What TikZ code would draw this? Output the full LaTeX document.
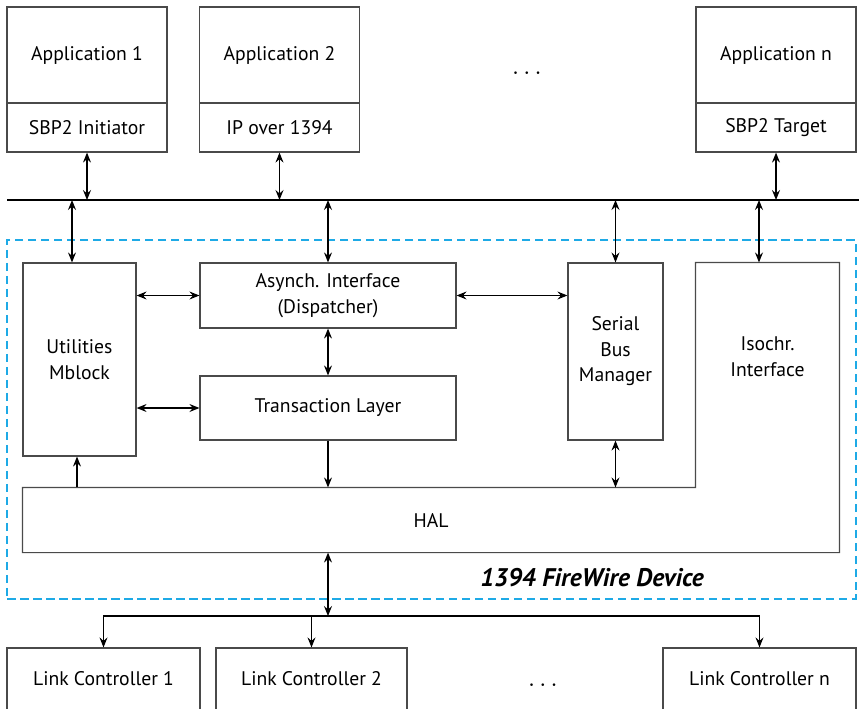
\documentclass[tikz,border=0pt]{standalone}
\usepackage{fontspec}
\setmainfont{PT Sans}
\definecolor{boxline}{HTML}{4a4a4a}
\definecolor{devblue}{HTML}{1eaae6}
\usepackage{tikz}
\usetikzlibrary{arrows.meta, positioning}

\begin{document}
\begin{tikzpicture}[x=0.02cm, y=-0.02cm,
						box/.style={draw=boxline, fill=white, line width=0.7pt, align=center, inner sep=0pt, font=\fontsize{11.2}{14.5}\selectfont},
						arrow/.style={-{Stealth[length=2mm, width=1.6mm, inset=0.7mm]}, line width=0.7pt},
						biarrow/.style={{Stealth[length=2mm, width=1.6mm, inset=0.7mm]}-{Stealth[length=2mm, width=1.6mm, inset=0.7mm]}, line width=0.7pt},
						device/.style={draw=devblue, dash pattern=on 0.17cm off 0.09cm, line width=1.1pt},
						dots/.style={font=\fontsize{14}{15}\selectfont}
					]
					\useasboundingbox (0,0) rectangle (859,708);

					\node[device, minimum width=16.98cm, minimum height=7.18cm] (dev) at (431.5,419.5) {};
					\node[font=\fontsize{14.5}{16}\bfseries\itshape\selectfont] (devlabel) at (592,578) {1394 FireWire Device};

					\node[box, minimum width=3.2cm, minimum height=1.92cm] (app1) at (87,55) {Application 1};
					\node[box, minimum width=3.2cm, minimum height=0.98cm] (sbpi) at (87,127.5) {SBP2 Initiator};
					\node[box, minimum width=3.2cm, minimum height=1.92cm] (app2) at (279.5,55) {Application 2};
					\node[box, minimum width=3.2cm, minimum height=0.98cm] (ipo) at (279.5,127.5) {IP over 1394};
					\node[box, minimum width=3.2cm, minimum height=1.92cm] (appn) at (776,55) {Application n};
					\node[box, minimum width=3.2cm, minimum height=0.98cm] (sbpt) at (776,127.5) {SBP2 Target};
					\node[dots] (topdots) at (527,74) {$\cdots$};

					\coordinate (busl) at (7,200);
					\coordinate (busr) at (859,200);
					\draw[line width=1.6pt] (busl) -- (busr);

					\node[box, minimum width=2.26cm, minimum height=3.86cm] (util) at (79.5,359.5) {Utilities\\Mblock};
					\node[box, minimum width=5.12cm, minimum height=1.3cm] (async) at (328,295.5) {Asynch. Interface\\(Dispatcher)};
					\node[box, minimum width=5.12cm, minimum height=1.28cm] (trans) at (328,408) {Transaction Layer};
					\node[box, minimum width=1.9cm, minimum height=3.54cm] (sbm) at (615.5,351.5) {Serial\\Bus\\Manager};
					\node[box, draw=none, fill=none, minimum width=16.32cm, minimum height=1.28cm] (hal) at (431,520) {HAL};
					\node[box, draw=none, fill=none, minimum width=2.86cm, minimum height=4.5cm] (iso) at (767.5,375.5) {Isochr.\\Interface\\[0.25cm]};
					\draw[draw=boxline, line width=0.7pt] (hal.north west) -- (iso.west |- hal.north) -- (iso.north west) -- (iso.north east) -- (hal.south east) -- (hal.south west) -- cycle;

					\node[box, minimum width=3.86cm, minimum height=1.24cm] (lc1) at (103.5,679) {Link Controller 1};
					\node[box, minimum width=3.82cm, minimum height=1.24cm] (lc2) at (311.5,679) {Link Controller 2};
					\node[box, minimum width=3.86cm, minimum height=1.24cm] (lcn) at (759.5,679) {Link Controller n};
					\node[dots] (botdots) at (543,686) {$\cdots$};

					\draw[biarrow] (sbpi.south) -- (sbpi.south |- busl);
					\draw[biarrow] (ipo.south) -- (ipo.south |- busl);
					\draw[biarrow] (sbpt.south) -- (sbpt.south |- busl);

					\draw[biarrow] ([xshift=-0.15cm]util.north |- busl) -- ([xshift=-0.15cm]util.north);
					\draw[biarrow] (async.north |- busl) -- (async.north);
					\draw[biarrow] (sbm.north |- busl) -- (sbm.north);
					\draw[biarrow] ([xshift=-0.17cm]iso.north |- busl) -- ([xshift=-0.17cm]iso.north);

					\draw[biarrow] (util.east |- async) -- (async.west);
					\draw[biarrow] (util.east |- trans) -- (trans.west);
					\draw[biarrow] (async.east) -- (sbm.west |- async);
					\draw[biarrow] (async.south) -- (trans.north);

					\draw[arrow] (trans.south) -- (trans.south |- hal.north);
					\draw[biarrow] (sbm.south) -- (sbm.south |- hal.north);
					\draw[arrow] ([xshift=-0.05cm]util.south |- hal.north) -- ([xshift=-0.05cm]util.south);

					\coordinate (junc) at (328,616);
					\draw[biarrow] (junc |- hal.south) -- (junc);
					\draw[arrow] (junc) -| (lc1.north);
					\draw[arrow] (junc) -| (lcn.north);
					\draw[arrow] (lc2.north |- junc) -- (lc2.north);
				\end{tikzpicture}
\end{document}
